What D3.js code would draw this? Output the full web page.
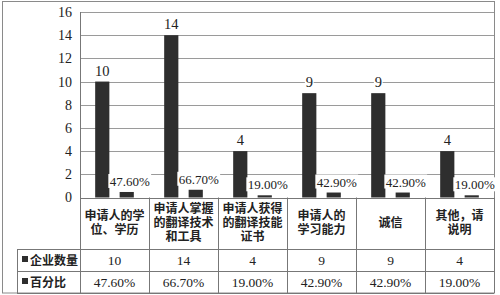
<!DOCTYPE html>
<html>
<head>
<meta charset="utf-8">
<script src="https://cdn.jsdelivr.net/npm/d3@7"></script>
<style>
body{margin:0;background:#fff;}
</style>
</head>
<body>
<div id="chart-area"></div>
<script>
// data
var categories = [
  ["申请人的学","位、学历"],
  ["申请人掌握","的翻译技术","和工具"],
  ["申请人获得","的翻译技能","证书"],
  ["申请人的","学习能力"],
  ["诚信"],
  ["其他，请","说明"]
];
var counts = [10, 14, 4, 9, 9, 4];
var percents = [47.6, 66.7, 19.0, 42.9, 42.9, 19.0];
var seriesNames = ["企业数量", "百分比"];
var yTicks = [0, 2, 4, 6, 8, 10, 12, 14, 16];

var W = 500, H = 295;
var m = {left: 80, right: 494, top: 12, bottom: 197.5};
var rowLines = [249, 271, 293];
var serif = "'Liberation Serif','DejaVu Serif',serif";
var cjk = "'Noto Sans CJK SC',sans-serif";

var svg = d3.select("#chart-area").append("svg")
    .attr("width", W)
    .attr("height", H);

var x = d3.scaleBand()
    .domain(d3.range(categories.length))
    .range([m.left, m.right]);

var inner = d3.scaleBand()
    .domain([0, 1])
    .range([0, x.bandwidth()])
    .paddingInner(0.42)
    .paddingOuter(0.62);

var y = d3.scaleLinear()
    .domain([0, 16])
    .range([m.bottom, m.top]);

// outer frame
svg.append("rect")
    .attr("x", 2.5).attr("y", 1.5)
    .attr("width", 492).attr("height", 291.5)
    .attr("fill", "none")
    .attr("stroke", "#8a8a8a");

// gridlines
svg.append("g").selectAll("line")
    .data(yTicks.slice(1))
    .enter().append("line")
    .attr("x1", m.left).attr("x2", m.right)
    .attr("y1", d => Math.round(y(d)) + 0.5)
    .attr("y2", d => Math.round(y(d)) + 0.5)
    .attr("stroke", "#9a9a9a");

// left axis labels
var leftAxis = d3.axisLeft(y).tickValues(yTicks).tickSize(0).tickPadding(8);
var ax = svg.append("g")
    .attr("transform", "translate(" + m.left + ",0)")
    .call(leftAxis);
ax.select(".domain").remove();
ax.selectAll("text")
    .attr("font-family", serif)
    .attr("font-size", "14px")
    .attr("fill", "#222");

svg.append("line")
    .attr("x1", m.left + 0.5).attr("x2", m.left + 0.5)
    .attr("y1", m.top).attr("y2", rowLines[2])
    .attr("stroke", "#777");

// bars
var series = [counts, percents.map(p => p / 100)];
var labels = [counts.map(String), percents.map(p => p.toFixed(2) + "%")];
var labelSize = [14.5, 13];

series.forEach(function(vals, s) {
  svg.append("g").selectAll("rect")
      .data(vals)
      .enter().append("rect")
      .attr("x", (d, i) => x(i) + inner(s))
      .attr("y", d => y(d))
      .attr("width", inner.bandwidth())
      .attr("height", d => m.bottom - y(d))
      .attr("fill", "#2e2e2e");

  var lab = svg.append("g").selectAll("g")
      .data(vals)
      .enter().append("g")
      .attr("transform", (d, i) => "translate(" + (x(i) + inner(s) + inner.bandwidth() / 2 + (s ? 3 : 0)) + "," + (y(d) - 6) + ")");
  lab.append("rect")
      .attr("x", (d, i) => -labels[s][i].length * 3.4 - 1)
      .attr("y", -12)
      .attr("width", (d, i) => labels[s][i].length * 6.8 + 2)
      .attr("height", 14)
      .attr("fill", "#fff");
  lab.append("text")
      .attr("text-anchor", "middle")
      .attr("font-family", serif)
      .attr("font-size", labelSize[s] + "px")
      .attr("fill", "#222")
      .text((d, i) => labels[s][i]);
});

// table
var tbl = svg.append("g");
tbl.selectAll("line.h")
    .data([m.bottom].concat(rowLines))
    .enter().append("line")
    .attr("x1", (d, i) => i === 0 ? m.left : 17)
    .attr("x2", m.right)
    .attr("y1", d => Math.round(d) + 0.5)
    .attr("y2", d => Math.round(d) + 0.5)
    .attr("stroke", "#777");
tbl.append("line")
    .attr("x1", 17.5).attr("x2", 17.5)
    .attr("y1", rowLines[0]).attr("y2", rowLines[2])
    .attr("stroke", "#777");
tbl.selectAll("line.v")
    .data(d3.range(1, categories.length + 1))
    .enter().append("line")
    .attr("x1", i => Math.round(x(i - 1) + x.bandwidth()) + 0.5)
    .attr("x2", i => Math.round(x(i - 1) + x.bandwidth()) + 0.5)
    .attr("y1", m.bottom).attr("y2", rowLines[2])
    .attr("stroke", "#777");

// category labels
var cat = tbl.selectAll("text.cat")
    .data(categories)
    .enter().append("text")
    .attr("text-anchor", "middle")
    .attr("font-family", cjk)
    .attr("font-weight", "bold")
    .attr("font-size", "12px")
    .attr("fill", "#222");
cat.each(function(lines, i) {
  var t = d3.select(this);
  var y0 = (m.bottom + rowLines[0]) / 2 - (lines.length - 1) * 7 + 4;
  lines.forEach(function(line, k) {
    t.append("tspan")
        .attr("x", x(i) + x.bandwidth() / 2)
        .attr("y", y0 + k * 14)
        .text(line);
  });
});

// legend rows
seriesNames.forEach(function(name, s) {
  var yc = (rowLines[s] + rowLines[s + 1]) / 2;
  tbl.append("rect")
      .attr("x", 22).attr("y", yc - 4)
      .attr("width", 6).attr("height", 6)
      .attr("fill", "#2e2e2e");
  tbl.append("text")
      .attr("x", 30).attr("y", yc + 4.5)
      .attr("font-family", cjk)
      .attr("font-weight", "bold")
      .attr("font-size", "12px")
      .attr("fill", "#222")
      .text(name);
  tbl.selectAll(null)
      .data(labels[s])
      .enter().append("text")
      .attr("x", (d, i) => x(i) + x.bandwidth() / 2)
      .attr("y", yc + 5)
      .attr("text-anchor", "middle")
      .attr("font-family", serif)
      .attr("font-size", "13.5px")
      .attr("fill", "#222")
      .text(d => d);
});
</script>
</body>
</html>
